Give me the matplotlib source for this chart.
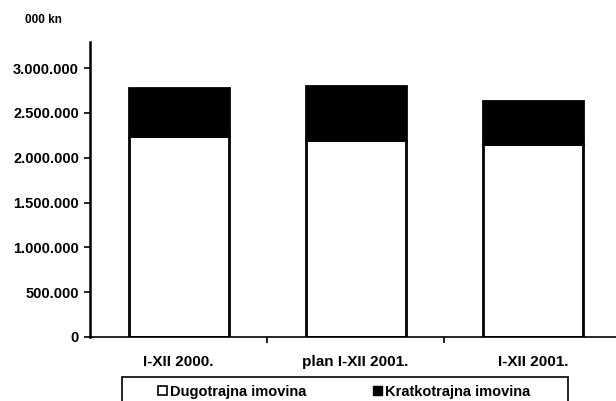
import numpy as np
from matplotlib import pyplot as plt
from matplotlib.patches import Patch, Rectangle

plt.rcParams['font.family'] = ['Liberation Sans', 'DejaVu Sans']
plt.rcParams['font.weight'] = 'bold'

categories = ['I-XII 2000.', 'plan I-XII 2001.', 'I-XII 2001.']
dugotrajna = [2240000, 2200000, 2155000]
kratkotrajna = [540000, 600000, 480000]
yticks = [0, 500000, 1000000, 1500000, 2000000, 2500000, 3000000]
ytick_labels = ['0', '500.000', '1.000.000', '1.500.000', '2.000.000', '2.500.000', '3.000.000']

W, H = 616, 401
fig = plt.figure(figsize=(W / 100, H / 100), dpi=100)
ax = fig.add_axes([90/W, 64/H, 526/W, 295/H])

x = np.arange(len(categories))
w = 0.565
ax.bar(x, dugotrajna, w, color='white', edgecolor='black', linewidth=2)
ax.bar(x, kratkotrajna, w, bottom=dugotrajna, color='black', edgecolor='black', linewidth=2)

ax.set_xlim(-0.5, 2.47)
ax.set_ylim(0, 3290000)
ax.set_yticks(yticks)
ax.set_yticklabels(ytick_labels, fontsize=10.5, fontweight='bold')
ax.set_xticks([0.5, 1.5])
ax.set_xticklabels([])
ax.set_xticks(x, minor=True)
ax.set_xticklabels(categories, minor=True, fontsize=11, fontweight='bold')
ax.tick_params(axis='x', which='minor', length=0, pad=13)
ax.tick_params(axis='x', which='major', length=4, width=1.2, direction='out')
ax.tick_params(axis='y', length=4, width=1.2, direction='out', pad=4)

for s in ['top', 'right']:
    ax.spines[s].set_visible(False)
ax.spines['left'].set_linewidth(1.8)
ax.spines['bottom'].set_linewidth(1.2)

fig.text(25/W, 1 - 20/H, '000 kn', fontsize=8.5, fontweight='bold', va='center')

# legend box (runs past the bottom edge, as in the scan)
fig.patches.append(Rectangle((122/W, 1 - 412/H), 446/W, 35/H, transform=fig.transFigure,
                             facecolor='none', edgecolor='black', linewidth=1.2))
handles = [Patch(facecolor='white', edgecolor='black', linewidth=1.2, label='Dugotrajna imovina'),
           Patch(facecolor='black', edgecolor='black', label='Kratkotrajna imovina')]
fig.legend(handles=handles, ncol=2, loc='center left', bbox_to_anchor=(158/W, 1 - 392/H),
           fontsize=10.5, frameon=False, handlelength=0.6, handleheight=0.6,
           handletextpad=0.2, columnspacing=4.6, borderpad=0, borderaxespad=0)

fig.savefig('out.png', dpi=100)
